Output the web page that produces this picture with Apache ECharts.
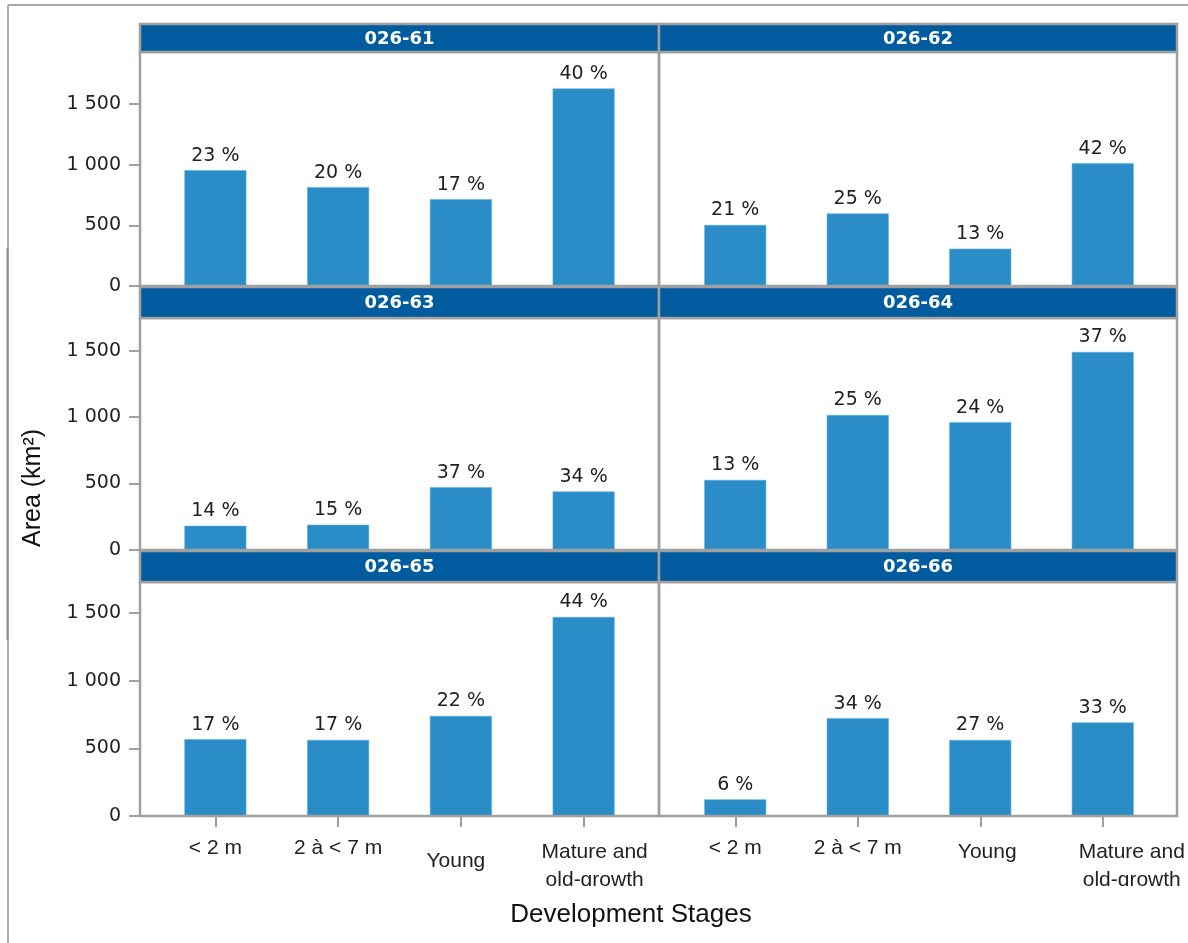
<!DOCTYPE html>
<html>
<head>
<meta charset="utf-8">
<script src="https://cdn.jsdelivr.net/npm/echarts@6/dist/echarts.min.js"></script>
<style>html,body{margin:0;padding:0;background:#fff;}#c{width:1188px;height:943px;}</style>
</head>
<body>
<div id="c"></div>
<script>
// ---- data ----
const categories = ['< 2 m', '2 à < 7 m', 'Young', 'Mature and\nold-growth'];
const panelNames = ['026-61', '026-62', '026-63', '026-64', '026-65', '026-66'];
const area61 = [956, 816, 717, 1630];
const area62 = [504, 598, 308, 1014];
const area63 = [182, 190, 473, 440];
const area64 = [527, 1015, 962, 1490];
const area65 = [568, 563, 740, 1472];
const area66 = [123, 723, 562, 692];
const pct61 = ['23 %', '20 %', '17 %', '40 %'];
const pct62 = ['21 %', '25 %', '13 %', '42 %'];
const pct63 = ['14 %', '15 %', '37 %', '34 %'];
const pct64 = ['13 %', '25 %', '24 %', '37 %'];
const pct65 = ['17 %', '17 %', '22 %', '44 %'];
const pct66 = ['6 %', '34 %', '27 %', '33 %'];
const yTicks = [0, 500, 1000, 1500];
const yTickLabels = ['0', '500', '1 000', '1 500'];
const rowMax = [1931, 1745, 1730];
const yTitle = 'Area (km²)';
const xTitle = 'Development Stages';

const areas = [area61, area62, area63, area64, area65, area66];
const pcts = [pct61, pct62, pct63, pct64, pct65, pct66];

// ---- layout ----
const colFrame = [[140, 659], [659, 1177]];
const colGrid = [[154, 491], [674, 490]];
const headerTop = [24, 287, 551];
const plotTop = [52, 318, 582];
const plotBottom = [286, 550, 816];
// per-label padding [top, right, bottom, left] for each column (label placement quirks of the source)
const labelPad = [
  [[0,0,0,0], [0,0,0,0], [13,10,0,0], [4,0,0,22]],
  [[0,0,0,0], [0,0,0,0], [4,0,0,14], [4,0,0,58]]
];

const BAR = '#2a8dc8';
const HEAD = '#005b9f';
const FRAME = '#a0a0a0';
const TXT = '#222';
const NUMFONT = 'DejaVu Sans';
const LBLFONT = 'Liberation Sans';

const grids = [], xAxes = [], yAxes = [], series = [], graphics = [];

// outer border
graphics.push({type:'line', shape:{x1:8, y1:5, x2:1188, y2:5}, style:{stroke:'#a8a8a8', lineWidth:2}, z:1});
graphics.push({type:'line', shape:{x1:8, y1:5, x2:8, y2:943}, style:{stroke:'#b0b0b0', lineWidth:2}, z:1});
graphics.push({type:'line', shape:{x1:7.5, y1:248, x2:7.5, y2:640}, style:{stroke:'#909090', lineWidth:2}, z:1});

for (let i = 0; i < 6; i++) {
  const r = Math.floor(i / 2), c = i % 2;
  grids.push({left: colGrid[c][0], width: colGrid[c][1], top: plotTop[r], height: plotBottom[r] - plotTop[r], containLabel: false});
  const bottomRow = r === 2;
  xAxes.push({
    type: 'category', gridIndex: i,
    data: categories.map((cat, k) => ({value: cat, textStyle: {padding: labelPad[c][k]}})),
    axisLine: {show: false},
    axisTick: {show: bottomRow, alignWithLabel: true, length: 11, lineStyle: {color: FRAME, width: 2}},
    axisLabel: {show: bottomRow, interval: 0, margin: 18, fontFamily: LBLFONT, fontSize: 21, lineHeight: 28, color: TXT},
    splitLine: {show: false}
  });
  yAxes.push({
    type: 'value', gridIndex: i, min: 0, max: rowMax[r], offset: 14,
    axisLine: {show: false},
    axisTick: {show: c === 0, length: 11, customValues: yTicks, lineStyle: {color: FRAME, width: 2}},
    axisLabel: {show: c === 0, customValues: yTicks, margin: 19, fontFamily: NUMFONT, fontSize: 19, color: TXT,
      formatter: v => yTickLabels[yTicks.indexOf(v)]},
    splitLine: {show: false}
  });
  const p = pcts[i];
  series.push({
    type: 'bar', xAxisIndex: i, yAxisIndex: i, data: areas[i], barWidth: 62,
    itemStyle: {color: BAR, borderColor: '#5db0e0', borderWidth: 0.6},
    label: {show: true, position: 'top', distance: 5, fontFamily: NUMFONT, fontSize: 19, color: TXT,
      formatter: q => p[q.dataIndex]},
    silent: true
  });
  // panel frame
  const x0 = colFrame[c][0], x1 = colFrame[c][1];
  graphics.push({type:'rect', shape:{x:x0, y:plotTop[r], width:x1 - x0, height:plotBottom[r] - plotTop[r]},
    style:{fill:null, stroke:FRAME, lineWidth:2.5}, z:5});
  // header
  graphics.push({type:'rect', shape:{x:x0, y:headerTop[r], width:x1 - x0, height:plotTop[r] - headerTop[r]},
    style:{fill:HEAD, stroke:FRAME, lineWidth:2.5}, z:6});
  graphics.push({type:'text', x:(x0 + x1) / 2, y:(headerTop[r] + plotTop[r]) / 2 + 1,
    style:{text:panelNames[i], fill:'#fff', font:'bold 18px "DejaVu Sans"', textAlign:'center', textVerticalAlign:'middle'}, z:7});
}

// axis titles
graphics.push({type:'text', x:631, y:915, style:{text:xTitle, fill:'#111', font:'26px "Liberation Sans"', textAlign:'center', textVerticalAlign:'middle'}, z:7});
graphics.push({type:'text', x:33, y:488, rotation:Math.PI / 2, style:{text:yTitle, fill:'#111', font:'25px "Liberation Sans"', textAlign:'center', textVerticalAlign:'middle'}, z:7});
// clipping of the last label line, as in the source picture
graphics.push({type:'rect', shape:{x:500, y:886, width:170, height:12}, style:{fill:'#fff'}, z:50});
graphics.push({type:'rect', shape:{x:1040, y:886, width:148, height:12}, style:{fill:'#fff'}, z:50});

const chart = echarts.init(document.getElementById('c'), null, {renderer:'canvas'});
chart.setOption({
  animation: false,
  backgroundColor: '#fff',
  grid: grids, xAxis: xAxes, yAxis: yAxes, series: series,
  graphic: {elements: graphics}
});
</script>
</body>
</html>
